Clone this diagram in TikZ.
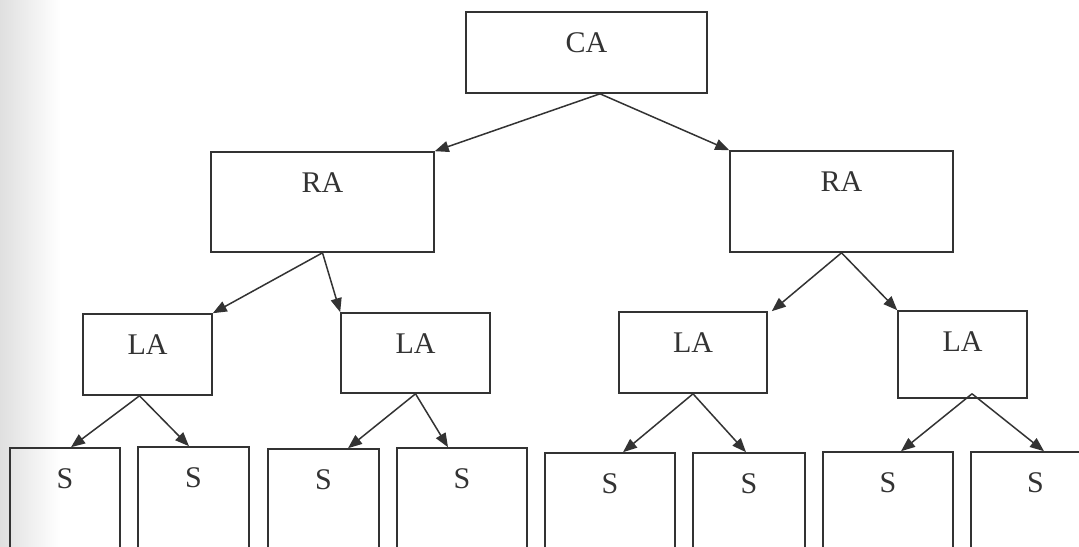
\documentclass[tikz,border=0pt]{standalone}
\usepackage{fontspec}
\setmainfont{Liberation Serif}
\usetikzlibrary{arrows.meta,fit,calc}
\definecolor{ink}{HTML}{333333}
\newcommand{\tbox}[6]{\node[box, fit={(#2,#3) (#4,#5)}, label={[lbl]north:#6}] (#1) {};}
\begin{document}
\begin{tikzpicture}[x=0.5pt,y=-0.5pt,
  box/.style={draw=ink, line width=0.8pt, inner sep=0pt, rectangle},
  lbl/.style={anchor=base, yshift=-20.5pt, inner sep=0pt, text=ink, font=\fontsize{15}{17}\selectfont},
  arr/.style={draw=ink, line width=0.75pt, -{Triangle[length=7pt,width=5.5pt]}}]
\useasboundingbox (0,0) rectangle (1079,546);
\clip (0,0) rectangle (1079,546);
\fill[white] (0,0) rectangle (1079,546);
\shade[left color=gray!25, right color=white] (0,0) rectangle (60,546);
% boxes
\tbox{ca}{466}{12}{707}{93}{CA}
\tbox{raL}{211}{152}{434}{252}{RA}
\tbox{raR}{730}{151}{953}{252}{RA}
\tbox{la1}{83}{314}{212}{395}{LA}
\tbox{la2}{341}{313}{490}{393}{LA}
\tbox{la3}{619}{312}{767}{393}{LA}
\tbox{la4}{898}{311}{1027}{398}{LA}
\tbox{s1}{10}{448}{120}{580}{S}
\tbox{s2}{138}{447}{249}{580}{S}
\tbox{s3}{268}{449}{379}{580}{S}
\tbox{s4}{397}{448}{527}{580}{S}
\tbox{s5}{545}{453}{675}{580}{S}
\tbox{s6}{693}{453}{805}{580}{S}
\tbox{s7}{823}{452}{953}{580}{S}
\tbox{s8}{971}{452}{1100}{580}{S}
% connectors
\draw[arr] ($(ca.south)+(13.5,0)$) -- (raL.north east);
\draw[arr] ($(ca.south)+(13.5,0)$) -- (raR.north west);
\draw[arr] (raL.south) -- (la1.north east);
\draw[arr] (raL.south) -- (la2.north west);
\draw[arr] (raR.south) -- ($(la3.north east)+(4,0)$);
\draw[arr] (raR.south) -- (la4.north west);
\draw[arr] ($(la1.south)+(-8,0)$) -- ($(s1.north)+(6,0)$);
\draw[arr] ($(la1.south)+(-8,0)$) -- ($(s2.north)+(-4.5,0)$);
\draw[arr] (la2.south) -- ($(s3.north)+(24.5,0)$);
\draw[arr] (la2.south) -- ($(s4.north)+(-14,0)$);
\draw[arr] (la3.south) -- ($(s5.north)+(13,0)$);
\draw[arr] (la3.south) -- ($(s6.north)+(-3,0)$);
\draw[arr] ($(la4.south)+(9.5,-5)$) -- ($(s7.north)+(13,0)$);
\draw[arr] ($(la4.south)+(9.5,-5)$) -- ($(s8.north)+(8.5,0)$);
\end{tikzpicture}
\end{document}
